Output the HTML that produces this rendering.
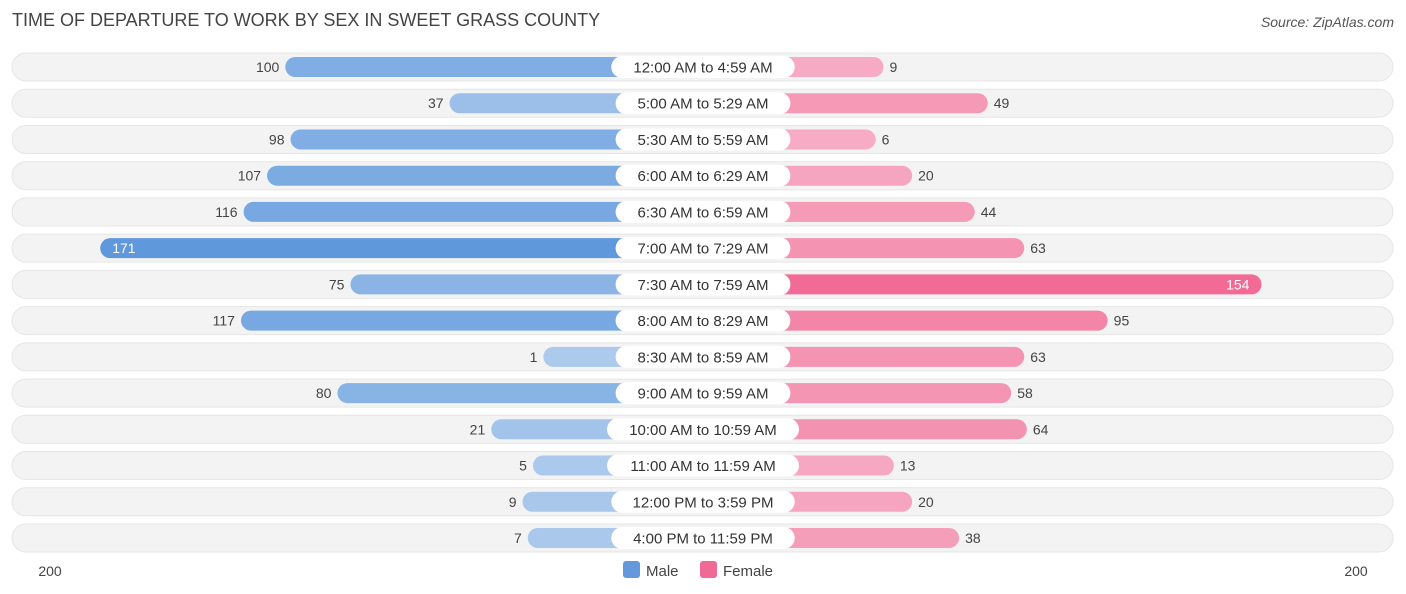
<!DOCTYPE html>
<html><head><meta charset="utf-8">
<style>
body{margin:0;background:#fff;font-family:"Liberation Sans",sans-serif;}
#wrap{position:relative;width:1406px;height:594px;overflow:hidden;}
.title{position:absolute;left:12px;top:10px;font-size:18px;color:#444;}
.src{position:absolute;right:12px;top:14px;font-size:14px;color:#555;font-style:italic;}
</style></head><body>
<div id="wrap">
<div class="title">TIME OF DEPARTURE TO WORK BY SEX IN SWEET GRASS COUNTY</div>
<div class="src">Source: ZipAtlas.com</div>
<svg id="svg" width="1406" height="594" style="position:absolute;left:0;top:0"></svg>
</div>
<script>
const categories=["12:00 AM to 4:59 AM","5:00 AM to 5:29 AM","5:30 AM to 5:59 AM","6:00 AM to 6:29 AM","6:30 AM to 6:59 AM","7:00 AM to 7:29 AM","7:30 AM to 7:59 AM","8:00 AM to 8:29 AM","8:30 AM to 8:59 AM","9:00 AM to 9:59 AM","10:00 AM to 10:59 AM","11:00 AM to 11:59 AM","12:00 PM to 3:59 PM","4:00 PM to 11:59 PM"];
const male=[100,37,98,107,116,171,75,117,1,80,21,5,9,7];
const female=[9,49,6,20,44,63,154,95,63,58,64,13,20,38];
const axisMax=200;
const svg=document.getElementById('svg');
const NS='http://www.w3.org/2000/svg';
const cx=703,off=157,ppu=2.607,y0=67,step=36.23;
function xm(v){return cx-off-v*ppu;}
function xf(v){return cx+off+v*ppu;}
function yr(i){return y0+i*step;}
function mk(t,a){const e=document.createElementNS(NS,t);for(const k in a)e.setAttribute(k,a[k]);svg.appendChild(e);return e;}
function mix(a,b,t){return 'rgb('+a.map((c,i)=>Math.round(c+(b[i]-c)*t)).join(',')+')';}
const maxV=Math.max(...male,...female);
categories.forEach((c,i)=>{
 const y=yr(i);
 let r=mk('rect',{x:12,y:y-14,width:1381,height:28,rx:14,fill:'#f3f3f3',stroke:'#e6e6e6'});
 
 
 const m=male[i],f=female[i];
 let b=mk('rect',{x:xm(m),y:y-10,width:cx-xm(m),height:20,rx:10,fill:mix([172,202,236],[96,152,220],m/maxV)});
 
 
 let g=mk('rect',{x:cx,y:y-10,width:xf(f)-cx,height:20,rx:10,fill:mix([247,174,198],[240,100,145],f/maxV)});
 
 
 const mIn=m>140,fIn=f>140;
 let t=mk('text',{x:mIn?xm(m)+12:xm(m)-6,y:y+5,'font-size':14,fill:mIn?'#fff':'#444','text-anchor':mIn?'start':'end'});
 t.textContent=m;
 
 
 let t2=mk('text',{x:fIn?xf(f)-12:xf(f)+6,y:y+5,'font-size':14,fill:fIn?'#fff':'#444','text-anchor':fIn?'end':'start'});
 t2.textContent=f;
 
 
 const w=c.length*8.6+20;
 let p=mk('rect',{x:cx-w/2,y:y-11,width:w,height:22,rx:11,fill:'#fff'});
 
 
 let l=mk('text',{x:cx,y:y+5.5,'font-size':15,fill:'#333','text-anchor':'middle'});
 l.textContent=c;
 
 
});
let a1=mk('text',{x:50,y:576,'font-size':14,fill:'#444','text-anchor':'middle'});a1.textContent=axisMax;


let a2=mk('text',{x:1356,y:576,'font-size':14,fill:'#444','text-anchor':'middle'});a2.textContent=axisMax;


let lm=mk('rect',{x:623,y:561,width:17,height:17,rx:3,fill:'#6399dc'});


let lmt=mk('text',{x:646,y:576,'font-size':15,fill:'#444'});lmt.textContent='Male';


let lf=mk('rect',{x:700,y:561,width:17,height:17,rx:3,fill:'#f06a95'});


let lft=mk('text',{x:723,y:576,'font-size':15,fill:'#444'});lft.textContent='Female';


</script>
</body></html>
